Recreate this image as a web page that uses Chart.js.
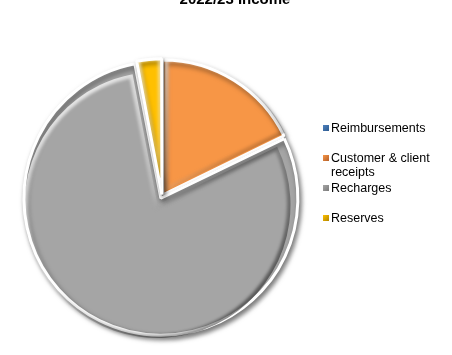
<!DOCTYPE html>
<html>
<head>
<meta charset="utf-8">
<title>2022/23 Income</title>
<script src="https://cdn.jsdelivr.net/npm/chart.js@4"></script>
<style>
  body { margin: 0; background: #fff; }
  #wrap { position: relative; width: 452px; height: 355px; overflow: hidden; font-family: "Liberation Sans", Arial, sans-serif; }
  #chart { position: absolute; left: 0; top: 0; }
  #title { position: absolute; left: 0; width: 470px; top: -10px; text-align: center; font-weight: bold; font-size: 15px; line-height: 18px; color: #000; }
  .item { position: absolute; left: 323px; font-size: 12.5px; line-height: 14px; color: #000; }
  .item .box { position: absolute; left: 0; top: 4px; width: 6px; height: 6px; }
  .item .txt { position: absolute; left: 8px; top: 0; width: 110px; }
</style>
</head>
<body>
<div id="wrap">
  <canvas id="chart" width="452" height="355"></canvas>
  <div id="title">2022/23 Income</div>
  <div id="legend"></div>
</div>
<script>
const labels = ['Reimbursements', 'Customer & client receipts', 'Recharges', 'Reserves']
const values = [0, 17.8, 79.2, 3.0]
const colours = ['#4f81bd', '#f79646', '#a5a5a5', '#ffc000']
const edgeColours = ['#2c5a8f', '#b4602a', '#7a7a7a', '#b38600']
const explode = [0, 6, 10, 6]

// legend drawn as html so the long label can wrap onto two lines
const legend = document.getElementById('legend')
labels.forEach((name, i) => {
  const item = document.createElement('div')
  item.className = 'item'
  item.style.top = (121 + 30 * i) + 'px'
  item.innerHTML = '<span class="box"></span><span class="txt"></span>'
  item.querySelector('.box').style.background = 'linear-gradient(135deg, ' + colours[i] + ', ' + edgeColours[i] + ')'
  item.querySelector('.txt').textContent = name
  legend.appendChild(item)
})

// drop shadow under the slices, then a bevel band inside each edge:
// light towards the top left, dark towards the bottom right
const bevel = {
  id: 'bevel',
  beforeDatasetsDraw(chart) {
    const ctx = chart.ctx
    ctx.save()
    ctx.shadowColor = 'rgba(0,0,0,0.5)'
    ctx.shadowBlur = 5
    ctx.shadowOffsetX = 2
    ctx.shadowOffsetY = 3
  },
  afterDatasetsDraw(chart) {
    const ctx = chart.ctx
    ctx.restore()
    chart.getDatasetMeta(0).data.forEach((arc) => {
      if (arc.circumference <= 0) return
      const off = arc.options.offset || 0
      const half = (arc.startAngle + arc.endAngle) / 2
      const x = arc.x + Math.cos(half) * off
      const y = arc.y + Math.sin(half) * off
      const r = arc.outerRadius - arc.options.borderWidth / 2
      const g = ctx.createLinearGradient(x - r * 0.7, y - r * 0.7, x + r * 0.7, y + r * 0.7)
      g.addColorStop(0, 'rgba(255,255,255,0.75)')
      g.addColorStop(0.45, 'rgba(255,255,255,0.2)')
      g.addColorStop(0.6, 'rgba(0,0,0,0.15)')
      g.addColorStop(1, 'rgba(0,0,0,0.45)')
      ctx.save()
      ctx.beginPath()
      ctx.moveTo(x, y)
      ctx.arc(x, y, r, arc.startAngle, arc.endAngle)
      ctx.closePath()
      ctx.clip()
      ctx.filter = 'blur(1.5px)'
      ctx.lineWidth = 7
      ctx.strokeStyle = g
      ctx.stroke()
      ctx.restore()
    })
  }
}

new Chart(document.getElementById('chart'), {
  type: 'pie',
  data: {
    labels: labels,
    datasets: [{
      data: values,
      backgroundColor: colours,
      borderColor: '#ffffff',
      borderWidth: 3,
      offset: explode
    }]
  },
  plugins: [bevel],
  options: {
    responsive: false,
    animation: false,
    devicePixelRatio: 1,
    layout: {
      padding: { left: 21, right: 149, top: 55, bottom: 18 }
    },
    plugins: {
      legend: { display: false },
      title: { display: false },
      tooltip: { enabled: false }
    }
  }
})
</script>
</body>
</html>
